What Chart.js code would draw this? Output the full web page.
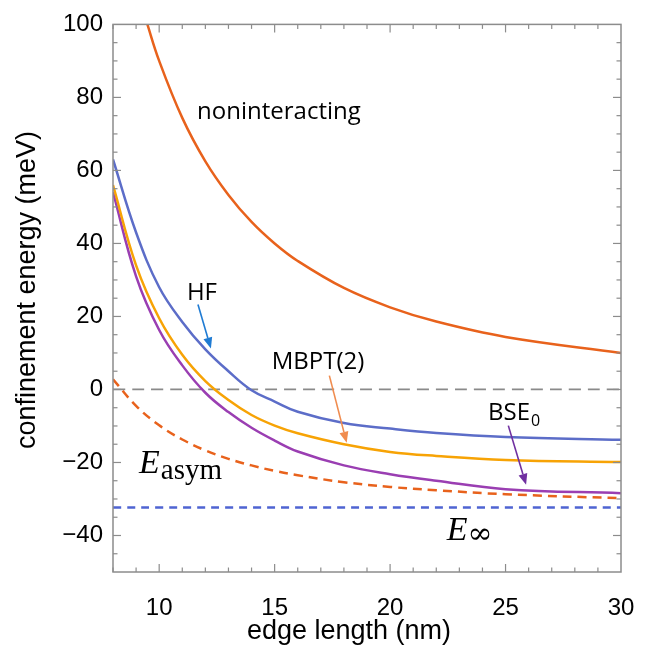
<!DOCTYPE html>
<html><head><meta charset="utf-8">
<script src="https://cdn.jsdelivr.net/npm/chart.js@4.4.0/dist/chart.umd.min.js"></script>
<style>html,body{margin:0;padding:0;background:#fff;}canvas{display:block;}</style>
</head><body>
<canvas id="c" width="659" height="648"></canvas>
<script>
// ---- data ----
const edgeLength = [8, 9, 10, 11, 12, 13, 14, 15, 16, 18, 20, 22, 25, 30];
const nonintLength = [9.45, 10, 11, 12, 13, 14, 15, 16, 18, 20, 22, 25, 30];
const noninteracting = [100.8, 90, 74.4, 62.5, 53.3, 45.9, 40, 35.2, 27.8, 22.5, 18.6, 14.4, 10];
const hf = [63, 43, 28, 18.5, 11, 5, -0.2, -3.3, -6.1, -9.2, -10.7, -11.9, -13.0, -13.8];
const mbpt2 = [56, 34, 19.5, 9.5, 2.3, -2.9, -7, -9.9, -12, -15, -17.1, -18.2, -19.3, -19.9];
const bse0 = [54, 31, 16.3, 6.6, -0.9, -6.2, -10.5, -14, -17, -20.8, -23.2, -25, -27.3, -28.4];
const eAsym = [2.8, -4.5, -9.8, -13.7, -16.7, -19, -20.8, -22.3, -23.5, -25.4, -26.7, -27.6, -28.7, -29.8];
const limitLength = [8, 30];
const eInf = [-32.3, -32.3];
const zeroLine = [0, 0];
const xTicks = [10, 15, 20, 25, 30];
const yTicks = [-40, -20, 0, 20, 40, 60, 80, 100];
const xLabel = 'edge length (nm)';
const yLabel = 'confinement energy (meV)';

const pts = (xs, ys) => xs.map((x, i) => ({x: x, y: ys[i]}));

// annotation placement (data units)
const notes = [
  {text: 'noninteracting', x: 11.64, y: 74.2},
  {text: 'HF', x: 11.2, y: 24.4},
  {text: 'MBPT(2)', x: 14.87, y: 5.6},
];
const arrows = [
  {from: [11.68, 23.3], to: [12.24, 11.2], color: '#1f7bd3'},
  {from: [17.37, 3.8], to: [18.12, -14.6], color: '#f08c4f'},
  {from: [25.12, -9.9], to: [25.89, -26.1], color: '#7030a0'},
];

function arrow(ctx, x1, y1, x2, y2, color) {
  const ang = Math.atan2(y2 - y1, x2 - x1);
  const hl = 11, hw = 4.5;
  ctx.strokeStyle = color; ctx.fillStyle = color; ctx.lineWidth = 1.6;
  ctx.beginPath();
  ctx.moveTo(x1, y1);
  ctx.lineTo(x2 - hl * Math.cos(ang), y2 - hl * Math.sin(ang));
  ctx.stroke();
  ctx.beginPath();
  ctx.moveTo(x2, y2);
  ctx.lineTo(x2 - hl * Math.cos(ang) + hw * Math.sin(ang), y2 - hl * Math.sin(ang) - hw * Math.cos(ang));
  ctx.lineTo(x2 - hl * Math.cos(ang) - hw * Math.sin(ang), y2 - hl * Math.sin(ang) + hw * Math.cos(ang));
  ctx.closePath();
  ctx.fill();
}

const overlay = {
  id: 'overlay',
  afterDatasetsDraw(chart) {
    const ctx = chart.ctx, a = chart.chartArea, xs = chart.scales.x, ys = chart.scales.y;
    ctx.save();
    // frame
    ctx.strokeStyle = '#8c8c8c';
    ctx.lineWidth = 1.5;
    ctx.strokeRect(a.left, a.top, a.right - a.left, a.bottom - a.top);
    ctx.lineWidth = 1.2;
    const seg = (x1, y1, x2, y2) => { ctx.beginPath(); ctx.moveTo(x1, y1); ctx.lineTo(x2, y2); ctx.stroke(); };
    for (let v = Math.ceil(xs.min); v < xs.max; v++) {
      const p = xs.getPixelForValue(v);
      const L = (v % 5 === 0) ? 8 : 4.5;
      seg(p, a.bottom, p, a.bottom - L);
      seg(p, a.top, p, a.top + L);
    }
    for (let v = ys.min + 5; v < ys.max; v += 5) {
      const p = ys.getPixelForValue(v);
      const L = (v % 20 === 0) ? 8 : 4.5;
      seg(a.left, p, a.left + L, p);
      seg(a.right, p, a.right - L, p);
    }
    // axis titles
    ctx.fillStyle = '#000';
    ctx.font = '27px "Liberation Sans", Arial, sans-serif';
    ctx.textAlign = 'center';
    ctx.textBaseline = 'middle';
    ctx.fillText(xLabel, 349, 632);
    ctx.save();
    ctx.translate(28, 290);
    ctx.rotate(-Math.PI / 2);
    ctx.fillText(yLabel, 0, 0);
    ctx.restore();
    // labels
    ctx.textAlign = 'left';
    ctx.textBaseline = 'alphabetic';
    ctx.font = '24px "Open Sans", sans-serif';
    notes.forEach(n => ctx.fillText(n.text, xs.getPixelForValue(n.x), ys.getPixelForValue(n.y)));
    // BSE0
    let bx = xs.getPixelForValue(24.24), by = ys.getPixelForValue(-8.4);
    ctx.fillText('BSE', bx, by);
    const bw = ctx.measureText('BSE').width;
    ctx.font = '16px "Open Sans", sans-serif';
    ctx.fillText('0', bx + bw + 1, by + 6);
    // E_asym
    let ex = xs.getPixelForValue(9.13), ey = ys.getPixelForValue(-23.0);
    ctx.font = 'italic 34px "Liberation Serif", serif';
    ctx.fillText('E', ex, ey);
    let ew = ctx.measureText('E').width;
    ctx.font = '29px "Liberation Serif", serif';
    ctx.fillText('asym', ex + ew + 1, ey + 6);
    // E_inf
    ex = xs.getPixelForValue(22.45); ey = ys.getPixelForValue(-41.3);
    ctx.font = 'italic 34px "Liberation Serif", serif';
    ctx.fillText('E', ex, ey);
    ew = ctx.measureText('E').width;
    ctx.font = '30px "DejaVu Serif", serif';
    ctx.fillText('\u221E', ex + ew, ey + 3);
    // arrows
    arrows.forEach(r => arrow(ctx,
      xs.getPixelForValue(r.from[0]), ys.getPixelForValue(r.from[1]),
      xs.getPixelForValue(r.to[0]), ys.getPixelForValue(r.to[1]), r.color));
    ctx.restore();
  }
};

const common = {pointRadius: 0, borderWidth: 2.5, fill: false, tension: 0.4};

new Chart(document.getElementById('c'), {
  type: 'line',
  data: {
    datasets: [
      Object.assign({label: 'noninteracting', data: pts(nonintLength, noninteracting), borderColor: '#e8621c'}, common),
      Object.assign({label: 'HF', data: pts(edgeLength, hf), borderColor: '#5c6dc8'}, common),
      Object.assign({label: 'MBPT(2)', data: pts(edgeLength, mbpt2), borderColor: '#f7a305'}, common),
      Object.assign({label: 'BSE0', data: pts(edgeLength, bse0), borderColor: '#9a3eb2'}, common),
      Object.assign({}, common, {label: 'E_asym', data: pts(edgeLength, eAsym), borderColor: '#e8621c', borderDash: [9, 6]}),
      Object.assign({}, common, {label: 'E_inf', data: pts(limitLength, eInf), borderColor: '#4f64d2', borderDash: [8, 6]}),
      Object.assign({}, common, {label: 'zero', data: pts(limitLength, zeroLine), borderColor: '#8a8a8a', borderDash: [12, 7], borderWidth: 1.8}),
    ]
  },
  options: {
    responsive: false,
    devicePixelRatio: 1,
    animation: false,
    layout: {padding: {top: 14, right: 38, left: 0, bottom: 0}},
    plugins: {legend: {display: false}, tooltip: {enabled: false}},
    scales: {
      x: {
        type: 'linear', min: 8, max: 30,
        afterBuildTicks: s => { s.ticks = xTicks.map(v => ({value: v})); },
        afterFit: s => { s.height = 76; },
        grid: {display: false, drawTicks: false},
        border: {display: false},
        ticks: {padding: 22, color: '#000', font: {family: '"Liberation Sans", Arial, sans-serif', size: 24}, maxRotation: 0}
      },
      y: {
        type: 'linear', min: -50, max: 100,
        afterBuildTicks: s => { s.ticks = yTicks.map(v => ({value: v})); },
        afterFit: s => { s.width = 113; },
        grid: {display: false, drawTicks: false},
        border: {display: false},
        ticks: {padding: 10, color: '#000', font: {family: '"Liberation Sans", Arial, sans-serif', size: 24},
          callback: v => (v < 0 ? '\u2212' + Math.abs(v) : String(v))}
      }
    }
  },
  plugins: [overlay]
});
</script>
</body></html>
